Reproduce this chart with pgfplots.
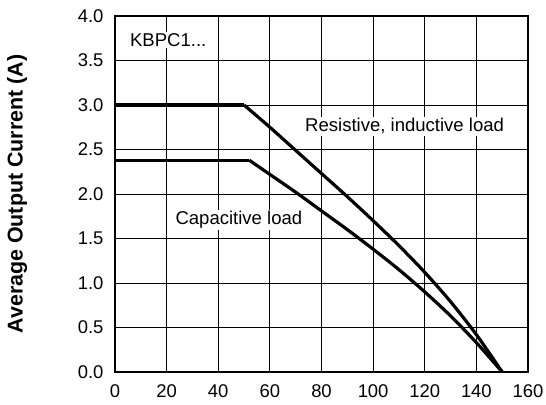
\documentclass[border=0pt]{standalone}
\usepackage{pgfplots}
\pgfplotsset{compat=1.18}
\usepackage{fontspec}
\setmainfont{Liberation Sans}
\begin{document}
\begin{tikzpicture}
\useasboundingbox (-115bp,-33bp) rectangle (431bp,372bp);
\begin{axis}[
    scale only axis, width=413bp, height=356bp,
    at={(0,0)}, anchor=south west,
    xmin=0, xmax=160, ymin=0, ymax=4,
    xtick={0,20,...,160}, ytick={0,0.5,...,4},
    grid=major, major grid style={black, line width=1pt},
    axis line style={black, line width=2.6pt},
    tick style={draw=none},
    /pgf/number format/assume math mode=true,
    tick label style={font=\fontsize{18.5}{21}\selectfont},
    xticklabel style={yshift=-9bp},
    yticklabel style={xshift=-8bp, /pgf/number format/.cd, fixed, fixed zerofill, precision=1},
    ylabel={\bfseries Average Output Current (A)},
    every axis y label/.style={at={(axis description cs:-0.2615,0.5)}, rotate=90,
        anchor=north, inner sep=0pt, font=\fontsize{21.5}{24}\selectfont},
    clip=false,
]
% resistive, inductive load
\addplot[black, line width=3.2pt] coordinates {(0,3.0) (50,3.0)};
\addplot[black, line width=3.2pt, smooth] coordinates {
  (50,3.0) (60,2.75) (70,2.49) (80,2.23) (90,1.97) (100,1.70)
  (110,1.42) (120,1.12) (130,0.79) (140,0.42) (150,0)};
% capacitive load
\addplot[black, line width=3.2pt] coordinates {(0,2.38) (52,2.38)};
\addplot[black, line width=3.2pt, smooth] coordinates {
  (52,2.38) (60,2.22) (70,2.02) (80,1.81) (90,1.60) (100,1.38)
  (110,1.15) (120,0.90) (130,0.63) (140,0.33) (150,0)};
\begin{scope}[every node/.style={fill=white, inner sep=1.5bp, font=\fontsize{18.6}{21}\selectfont}]
\node[anchor=west] at (axis cs:5.2,3.73) {KBPC1...};
\node at (axis cs:112.2,2.76) {Resistive, inductive load};
\node at (axis cs:48,1.71) {Capacitive load};
\end{scope}
\end{axis}
\end{tikzpicture}
\end{document}
